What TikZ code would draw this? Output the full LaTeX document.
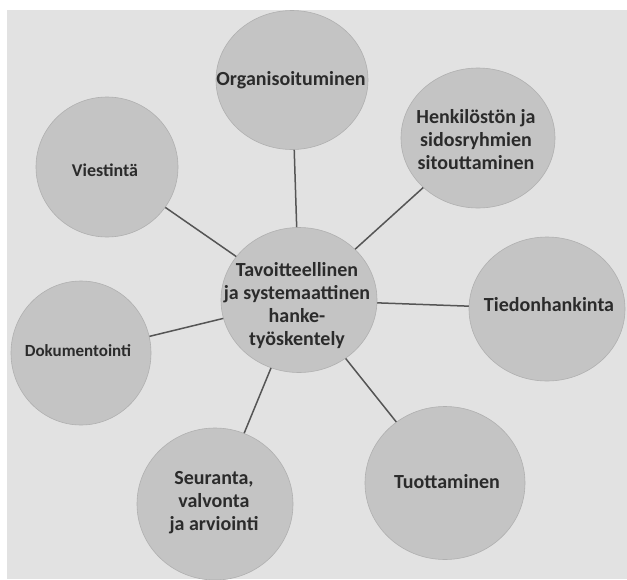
\documentclass[tikz,border=0pt]{standalone}
\usepackage{fontspec}
\setmainfont{Carlito}
\usetikzlibrary{shapes.geometric}

\definecolor{bggray}{HTML}{E2E2E2}
\definecolor{bubblegray}{HTML}{C4C4C4}
\definecolor{linkgray}{HTML}{555555}
\definecolor{textgray}{HTML}{2B2B2B}

\tikzset{
    bubble/.style={ellipse, fill=bubblegray, draw=bubblegray!90!black, line width=0.6pt, inner sep=0pt},
    bubbletext/.style={align=center, inner sep=0pt, font=\fontsize{20}{23}\selectfont\bfseries, text=textgray},
    link/.style={draw=linkgray, line width=1.5pt},
}

\begin{document}
\begin{tikzpicture}[x=1pt, y=-1pt]

    \useasboundingbox (0,0) rectangle (627,579);
    \fill[bggray] (7,10) rectangle (627,579);

    \node[bubble, minimum width=156pt, minimum height=145pt] (c) at (299,300) {};
    \node[bubble, minimum width=152pt, minimum height=139pt] (org) at (292,80) {};
    \node[bubble, minimum width=154pt, minimum height=140pt] (henk) at (478,138) {};
    \node[bubble, minimum width=142pt, minimum height=140pt] (viest) at (107,167) {};
    \node[bubble, minimum width=156pt, minimum height=144pt] (tied) at (547,309) {};
    \node[bubble, minimum width=140pt, minimum height=144pt] (dok) at (81,353) {};
    \node[bubble, minimum width=156pt, minimum height=152pt] (seur) at (215,504) {};
    \node[bubble, minimum width=160pt, minimum height=153pt] (tuot) at (445,483) {};

    \node[bubbletext] (ct) at (297,306) {Tavoitteellinen\\ja systemaattinen\\hanke-\\työskentely};
    \node[bubbletext] (orgt) at (291,80) {Organisoituminen};
    \node[bubbletext] (henkt) at (476,140) {Henkilöstön ja\\sidosryhmien\\sitouttaminen};
    \node[bubbletext, font=\fontsize{18}{22}\selectfont\bfseries] (viestt) at (105,170) {Viestintä};
    \node[bubbletext] (tiedt) at (549,305) {Tiedonhankinta};
    \node[bubbletext, font=\fontsize{17}{21}\selectfont\bfseries] (dokt) at (78,351) {Dokumentointi};
    \node[bubbletext] (seurt) at (214,503) {Seuranta,\\valvonta\\ja arviointi};
    \node[bubbletext] (tuott) at (447,482) {Tuottaminen};

    \draw[link] (c) -- (org);
    \draw[link] (c) -- (henk);
    \draw[link] (c) -- (viest);
    \draw[link] (c) -- (tied);
    \draw[link] (c) -- (dok);
    \draw[link] (c) -- (seur);
    \draw[link] (c) -- (tuot);

\end{tikzpicture}
\end{document}
